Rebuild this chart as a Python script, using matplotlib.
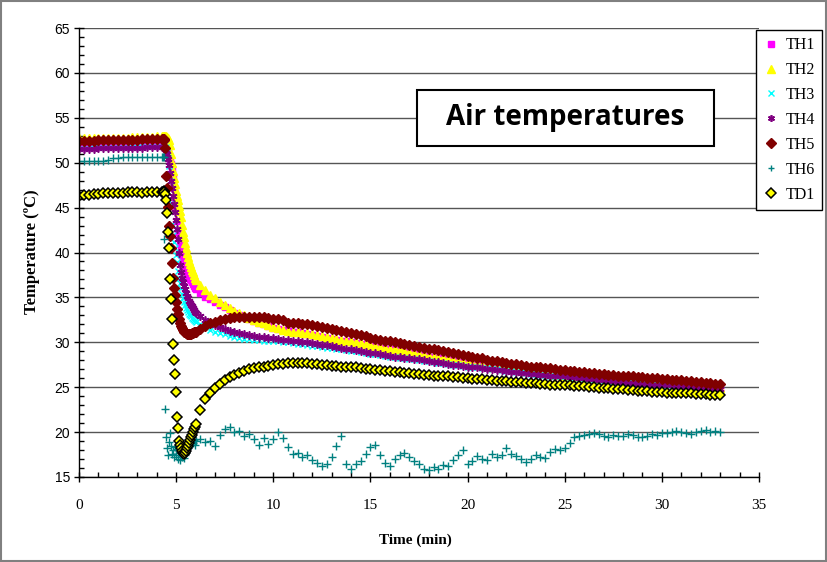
import matplotlib
matplotlib.use("Agg")
import matplotlib.pyplot as plt
from matplotlib.ticker import MultipleLocator
from matplotlib.patches import Rectangle

# sample times (min): 0.25 on the plateau, 0.05 through the drop, 0.25 after
time_min = [0.0, 0.25, 0.5, 0.75, 1.0, 1.25, 1.5, 1.75, 2.0, 2.25, 2.5, 2.75,
            3.0, 3.25, 3.5, 3.75, 4.0, 4.25,
            4.3, 4.35, 4.4, 4.45, 4.5, 4.55, 4.6, 4.65, 4.7, 4.75,
            4.8, 4.85, 4.9, 4.95, 5.0, 5.05, 5.1, 5.15, 5.2, 5.25,
            5.3, 5.35, 5.4, 5.45, 5.5, 5.55, 5.6, 5.65, 5.7, 5.75,
            5.8, 5.85, 5.9, 5.95, 6.0,
            6.25, 6.5, 6.75, 7.0, 7.25, 7.5, 7.75, 8.0, 8.25, 8.5, 8.75, 9.0,
            9.25, 9.5, 9.75, 10.0, 10.25, 10.5, 10.75, 11.0, 11.25, 11.5, 11.75, 12.0,
            12.25, 12.5, 12.75, 13.0, 13.25, 13.5, 13.75, 14.0, 14.25, 14.5, 14.75, 15.0,
            15.25, 15.5, 15.75, 16.0, 16.25, 16.5, 16.75, 17.0, 17.25, 17.5, 17.75, 18.0,
            18.25, 18.5, 18.75, 19.0, 19.25, 19.5, 19.75, 20.0, 20.25, 20.5, 20.75, 21.0,
            21.25, 21.5, 21.75, 22.0, 22.25, 22.5, 22.75, 23.0, 23.25, 23.5, 23.75, 24.0,
            24.25, 24.5, 24.75, 25.0, 25.25, 25.5, 25.75, 26.0, 26.25, 26.5, 26.75, 27.0,
            27.25, 27.5, 27.75, 28.0, 28.25, 28.5, 28.75, 29.0, 29.25, 29.5, 29.75, 30.0,
            30.25, 30.5, 30.75, 31.0, 31.25, 31.5, 31.75, 32.0, 32.25, 32.5, 32.75, 33.0]

th1 = [51.8, 51.9, 51.9, 51.9, 51.9, 51.9, 52.0, 52.0, 52.0, 52.0, 52.0, 52.0,
       52.0, 52.0, 52.0, 52.0, 52.0, 52.0,
       52.0, 52.0, 52.0, 52.0, 51.9, 51.7, 51.3, 50.8, 50.3, 49.8,
       49.3, 48.4, 47.2, 45.8, 44.8, 43.5, 42.3, 41.6, 41.0, 40.4,
       39.7, 39.2, 38.8, 38.5, 38.2, 37.8, 37.5, 37.3, 37.1, 36.9,
       36.7, 36.5, 36.3, 36.1, 35.9,
       35.5, 35.1, 34.8, 34.5, 34.2, 33.9, 33.6, 33.3, 33.0, 32.8, 32.6, 32.4,
       32.2, 32.0, 31.8, 31.6, 31.5, 31.4, 31.3, 31.2, 31.1, 31.0, 30.9, 30.8,
       30.7, 30.6, 30.5, 30.4, 30.3, 30.2, 30.1, 30.0, 29.9, 29.8, 29.7, 29.6,
       29.5, 29.4, 29.3, 29.2, 29.1, 29.0, 28.9, 28.8, 28.7, 28.6, 28.5, 28.4,
       28.3, 28.2, 28.1, 28.0, 27.9, 27.8, 27.7, 27.6, 27.5, 27.5, 27.4, 27.3,
       27.2, 27.2, 27.1, 27.0, 26.9, 26.9, 26.8, 26.7, 26.7, 26.6, 26.5, 26.5,
       26.4, 26.3, 26.3, 26.2, 26.2, 26.1, 26.0, 26.0, 25.9, 25.9, 25.8, 25.8,
       25.7, 25.7, 25.6, 25.6, 25.5, 25.5, 25.4, 25.4, 25.3, 25.3, 25.3, 25.2,
       25.2, 25.1, 25.1, 25.1, 25.0, 25.0, 25.0, 24.9, 24.9, 24.9, 24.8, 24.8]

th2 = [52.7, 52.7, 52.7, 52.8, 52.8, 52.8, 52.8, 52.8, 52.8, 52.8, 52.8, 52.9,
       52.9, 52.9, 52.9, 52.9, 53.0, 53.0,
       53.0, 53.0, 53.0, 53.0, 53.0, 52.9, 52.8, 52.5, 52.0, 51.0,
       50.0, 49.1, 48.3, 47.6, 46.9, 46.3, 45.8, 45.2, 44.6, 43.9,
       43.1, 42.3, 41.7, 41.1, 40.5, 40.0, 39.5, 39.1, 38.7, 38.4,
       38.1, 37.8, 37.5, 37.2, 36.9,
       36.4, 35.8, 35.3, 34.9, 34.5, 34.1, 33.8, 33.5, 33.3, 33.0, 32.7, 32.5,
       32.3, 32.1, 31.9, 31.7, 31.6, 31.4, 31.3, 31.2, 31.1, 31.0, 31.0, 30.9,
       30.8, 30.7, 30.6, 30.5, 30.4, 30.3, 30.2, 30.1, 30.0, 29.9, 29.8, 29.7,
       29.6, 29.5, 29.4, 29.3, 29.2, 29.1, 29.0, 28.9, 28.8, 28.7, 28.6, 28.5,
       28.4, 28.3, 28.2, 28.1, 28.0, 27.9, 27.8, 27.7, 27.6, 27.6, 27.5, 27.4,
       27.3, 27.3, 27.2, 27.1, 27.0, 27.0, 26.9, 26.8, 26.8, 26.7, 26.6, 26.6,
       26.5, 26.4, 26.4, 26.3, 26.3, 26.2, 26.1, 26.1, 26.0, 26.0, 25.9, 25.9,
       25.8, 25.8, 25.7, 25.7, 25.6, 25.6, 25.5, 25.5, 25.4, 25.4, 25.4, 25.3,
       25.3, 25.2, 25.2, 25.2, 25.1, 25.1, 25.1, 25.0, 25.0, 25.0, 24.9, 24.9]

th3 = [52.0, 52.0, 52.0, 52.1, 52.1, 52.1, 52.1, 52.1, 52.1, 52.1, 52.1, 52.1,
       52.2, 52.2, 52.2, 52.2, 52.2, 52.2,
       52.2, 52.2, 52.2, 52.1, 51.8, 51.2, 50.5, 49.6, 48.0, 45.5,
       43.2, 41.9, 41.2, 40.5, 39.7, 38.9, 37.9, 37.2, 36.6, 36.0,
       35.4, 34.9, 34.5, 34.1, 33.8, 33.6, 33.4, 33.2, 33.0, 32.9,
       32.7, 32.6, 32.5, 32.4, 32.3,
       32.0, 31.7, 31.4, 31.2, 31.0, 30.9, 30.7, 30.6, 30.5, 30.4, 30.4, 30.3,
       30.3, 30.2, 30.2, 30.1, 30.1, 30.0, 30.0, 29.9, 29.8, 29.8, 29.7, 29.6,
       29.6, 29.5, 29.4, 29.4, 29.3, 29.2, 29.1, 29.0, 29.0, 28.9, 28.8, 28.7,
       28.7, 28.6, 28.5, 28.4, 28.4, 28.3, 28.2, 28.1, 28.1, 28.0, 27.9, 27.9,
       27.8, 27.7, 27.7, 27.6, 27.5, 27.5, 27.4, 27.3, 27.3, 27.2, 27.1, 27.1,
       27.0, 27.0, 26.9, 26.8, 26.8, 26.7, 26.7, 26.6, 26.5, 26.5, 26.4, 26.4,
       26.3, 26.3, 26.2, 26.2, 26.1, 26.1, 26.0, 26.0, 25.9, 25.9, 25.8, 25.8,
       25.7, 25.7, 25.6, 25.6, 25.5, 25.5, 25.5, 25.4, 25.4, 25.3, 25.3, 25.3,
       25.2, 25.2, 25.2, 25.1, 25.1, 25.0, 25.0, 25.0, 24.9, 24.9, 24.9, 24.8]

th4 = [51.5, 51.5, 51.5, 51.5, 51.6, 51.6, 51.6, 51.6, 51.6, 51.6, 51.6, 51.6,
       51.6, 51.6, 51.7, 51.7, 51.7, 51.7,
       51.7, 51.7, 51.7, 51.6, 51.4, 51.0, 50.4, 49.7, 48.9, 48.0,
       47.2, 46.3, 45.4, 44.5, 43.6, 42.6, 41.5, 40.0, 38.6, 37.8,
       37.2, 36.7, 36.3, 35.9, 35.5, 35.2, 34.9, 34.6, 34.4, 34.2,
       34.0, 33.8, 33.6, 33.4, 33.3,
       32.9, 32.5, 32.2, 31.9, 31.7, 31.5, 31.3, 31.1, 31.0, 30.9, 30.8, 30.7,
       30.6, 30.6, 30.5, 30.5, 30.4, 30.3, 30.3, 30.2, 30.1, 30.0, 30.0, 29.9,
       29.8, 29.7, 29.7, 29.6, 29.5, 29.4, 29.3, 29.2, 29.1, 29.0, 28.9, 28.8,
       28.8, 28.7, 28.6, 28.5, 28.4, 28.4, 28.3, 28.2, 28.1, 28.1, 28.0, 27.9,
       27.8, 27.8, 27.7, 27.6, 27.5, 27.5, 27.4, 27.3, 27.2, 27.2, 27.1, 27.0,
       27.0, 26.9, 26.9, 26.8, 26.7, 26.7, 26.6, 26.6, 26.5, 26.5, 26.4, 26.4,
       26.3, 26.3, 26.2, 26.2, 26.1, 26.1, 26.0, 26.0, 25.9, 25.9, 25.8, 25.8,
       25.7, 25.7, 25.6, 25.6, 25.5, 25.5, 25.4, 25.4, 25.4, 25.3, 25.3, 25.2,
       25.2, 25.2, 25.1, 25.1, 25.0, 25.0, 25.0, 24.9, 24.9, 24.9, 24.8, 24.8]

th5 = [52.4, 52.4, 52.4, 52.4, 52.5, 52.5, 52.5, 52.5, 52.5, 52.5, 52.5, 52.5,
       52.5, 52.6, 52.6, 52.6, 52.6, 52.6,
       52.6, 52.6, 52.5, 51.6, 48.5, 47.2, 45.1, 43.0, 41.8, 40.5,
       38.8, 37.2, 36.0, 35.3, 34.5, 33.7, 33.1, 32.6, 32.2, 31.8,
       31.6, 31.4, 31.2, 31.1, 31.0, 30.9, 30.9, 30.9, 30.9, 30.9,
       31.0, 31.0, 31.1, 31.1, 31.2,
       31.5, 31.8, 32.1, 32.3, 32.5, 32.6, 32.7, 32.8, 32.8, 32.8, 32.8, 32.8,
       32.8, 32.8, 32.7, 32.6, 32.6, 32.5, 32.2, 32.2, 32.1, 32.0, 32.0, 31.9,
       31.8, 31.7, 31.6, 31.5, 31.4, 31.3, 31.1, 31.0, 30.9, 30.8, 30.7, 30.5,
       30.4, 30.3, 30.2, 30.1, 30.0, 29.9, 29.8, 29.7, 29.6, 29.5, 29.4, 29.3,
       29.2, 29.1, 29.0, 28.9, 28.8, 28.7, 28.6, 28.5, 28.4, 28.3, 28.2, 28.0,
       27.9, 27.9, 27.8, 27.7, 27.6, 27.6, 27.5, 27.4, 27.3, 27.3, 27.2, 27.1,
       27.1, 27.0, 26.9, 26.9, 26.8, 26.8, 26.7, 26.7, 26.6, 26.6, 26.5, 26.5,
       26.4, 26.4, 26.3, 26.3, 26.2, 26.2, 26.1, 26.1, 26.0, 26.0, 26.0, 25.9,
       25.9, 25.8, 25.8, 25.8, 25.7, 25.7, 25.6, 25.6, 25.5, 25.5, 25.4, 25.4]

th6 = [50.2, 50.2, 50.2, 50.2, 50.2, 50.2, 50.3, 50.5, 50.5, 50.6, 50.6, 50.6,
       50.6, 50.6, 50.6, 50.6, 50.6, 50.6,
       50.6, 50.6, 41.5, 22.6, 19.4, 18.2, 17.4, 18.9, 19.9, 18.5,
       17.6, 18.0, 17.2, 18.3, 17.5, 18.1, 17.0, 17.7, 16.9, 17.4,
       17.2, 17.6, 17.1, 17.4, 17.8, 18.3, 18.7, 18.4, 19.0, 18.6,
       19.2, 18.8, 19.1, 18.6, 19.0,
       19.2, 18.9, 19.0, 18.5, 19.7, 20.3, 20.6, 20.0, 20.1, 19.6, 19.8, 19.2,
       18.6, 19.3, 18.7, 19.2, 20.0, 19.3, 18.3, 17.6, 17.7, 17.2, 17.5, 16.9,
       16.6, 16.2, 16.5, 17.2, 18.4, 19.6, 16.4, 15.9, 16.4, 16.8, 17.6, 18.3,
       18.6, 17.5, 16.6, 16.2, 17.0, 17.4, 17.7, 17.2, 16.8, 16.4, 15.9, 15.8,
       16.1, 15.9, 16.3, 16.2, 16.9, 17.5, 18.0, 16.5, 16.8, 17.3, 17.0, 16.9,
       17.6, 17.2, 17.5, 18.2, 17.6, 17.3, 17.0, 16.7, 17.0, 17.4, 17.2, 17.1,
       17.8, 18.1, 18.0, 18.2, 18.8, 19.4, 19.6, 19.7, 19.8, 19.9, 19.8, 19.6,
       19.5, 19.7, 19.6, 19.6, 19.8, 19.7, 19.4, 19.5, 19.6, 19.8, 19.7, 19.9,
       19.9, 20.0, 20.1, 20.0, 19.9, 19.8, 20.0, 20.1, 20.2, 20.0, 20.1, 20.0]

td1 = [46.3, 46.4, 46.4, 46.5, 46.5, 46.6, 46.6, 46.6, 46.6, 46.6, 46.7, 46.7,
       46.7, 46.6, 46.7, 46.7, 46.7, 46.7,
       46.7, 46.8, 46.7, 46.5, 45.8, 44.4, 42.3, 40.5, 37.0, 34.8,
       32.6, 29.8, 28.0, 26.5, 24.5, 21.7, 20.5, 19.0, 18.6, 18.2,
       17.9, 17.7, 17.6, 17.7, 17.9, 18.2, 18.5, 18.8, 19.1, 19.4,
       19.7, 20.0, 20.3, 20.6, 20.9,
       22.5, 23.7, 24.3, 24.9, 25.4, 25.8, 26.1, 26.4, 26.6, 26.8, 27.0, 27.1,
       27.2, 27.3, 27.4, 27.5, 27.6, 27.6, 27.7, 27.7, 27.7, 27.7, 27.7, 27.6,
       27.6, 27.5, 27.5, 27.4, 27.4, 27.3, 27.3, 27.2, 27.2, 27.1, 27.0, 27.0,
       26.9, 26.9, 26.8, 26.8, 26.7, 26.7, 26.6, 26.6, 26.5, 26.5, 26.4, 26.4,
       26.3, 26.3, 26.2, 26.2, 26.1, 26.1, 26.0, 26.0, 25.9, 25.9, 25.9, 25.8,
       25.8, 25.7, 25.7, 25.7, 25.6, 25.6, 25.6, 25.5, 25.5, 25.5, 25.4, 25.4,
       25.3, 25.3, 25.3, 25.2, 25.2, 25.1, 25.1, 25.1, 25.0, 25.0, 24.9, 24.9,
       24.9, 24.8, 24.8, 24.8, 24.7, 24.7, 24.6, 24.6, 24.6, 24.5, 24.5, 24.5,
       24.4, 24.4, 24.4, 24.3, 24.3, 24.3, 24.2, 24.2, 24.2, 24.1, 24.1, 24.1]

series = [
    ("TH1", th1, dict(marker="s", ms=4.5, mfc="#ff00ff", mec="#ff00ff")),
    ("TH2", th2, dict(marker="^", ms=6.2, mfc="#ffff00", mec="#ffff00")),
    ("TH3", th3, dict(marker="x", ms=4.8, mec="#00ffff", mew=1)),
    ("TH4", th4, dict(marker=(6, 2, 0), ms=5.8, mec="#800080", mew=1.2)),
    ("TH5", th5, dict(marker="D", ms=5.4, mfc="#800000", mec="#800000")),
    ("TH6", th6, dict(marker="+", ms=5.5, mec="#008080", mew=1)),
    ("TD1", td1, dict(marker="D", ms=5.6, mfc="#ffff00", mec="#000000", mew=1.1)),
]

fig = plt.figure(figsize=(8.27, 5.62), dpi=100)
ax = fig.add_axes([79/827, 1-477/562, 680/827, 449/562])

for name, vals, style in series:
    assert len(vals) == len(time_min), name
    ax.plot(time_min, vals, ls="none", label=name, **style)

ax.set_xlim(0, 35)
ax.set_ylim(15, 65)
ax.set_xticks(range(0, 36, 5))
ax.set_yticks(range(15, 66, 5))
ax.xaxis.set_minor_locator(MultipleLocator(1))
ax.yaxis.set_minor_locator(MultipleLocator(1))
ax.tick_params(which="major", direction="inout", length=7, width=1, color="black")
ax.tick_params(which="minor", direction="in", length=3.5, width=1, color="black")
ax.tick_params(axis="x", which="major", pad=12)
ax.tick_params(axis="y", which="major", pad=3)
for lab in ax.get_yticklabels():
    lab.set_fontfamily("Liberation Sans")
    lab.set_fontsize(10)
for lab in ax.get_xticklabels():
    lab.set_fontfamily("Liberation Serif")
    lab.set_fontsize(11)

ax.yaxis.grid(True, color="#555555", lw=1)
ax.set_axisbelow(True)
for s in ["top", "right"]:
    ax.spines[s].set_visible(False)
for s in ["left", "bottom"]:
    ax.spines[s].set_linewidth(1)
    ax.spines[s].set_color("black")

fig.text(415/827, 1-540/562, "Time (min)", ha="center", va="center",
         family="Liberation Serif", weight="bold", fontsize=11)
fig.text(32/827, 1-252/562, "Temperature (ºC)", ha="center", va="center",
         rotation=90, family="Liberation Serif", weight="bold", fontsize=12)

# title box inside the plot
fig.patches.append(Rectangle((417/827, 1-146/562), 297/827, 56/562,
                             transform=fig.transFigure, facecolor="white",
                             edgecolor="black", lw=1.5, zorder=5))
fig.text(565/827, 1-117/562, "Air temperatures", ha="center", va="center",
         family="Open Sans", weight="bold", fontsize=20, zorder=6)

leg = fig.legend(loc="upper left", bbox_to_anchor=(756/827, 1-30/562),
                 prop=dict(family="Liberation Serif", size=11.5),
                 frameon=True, fancybox=False, framealpha=1, edgecolor="black",
                 handlelength=1.0, handletextpad=0.4, labelspacing=0.56,
                 borderpad=0.45, borderaxespad=0, markerscale=0.85)
leg.get_frame().set_linewidth(1)

# chart-area border
fig.patches.append(Rectangle((0.001, 0.001), 0.998, 0.997, transform=fig.transFigure,
                             fill=False, edgecolor="#808080", lw=1.5))

fig.savefig("out.png", dpi=100)
